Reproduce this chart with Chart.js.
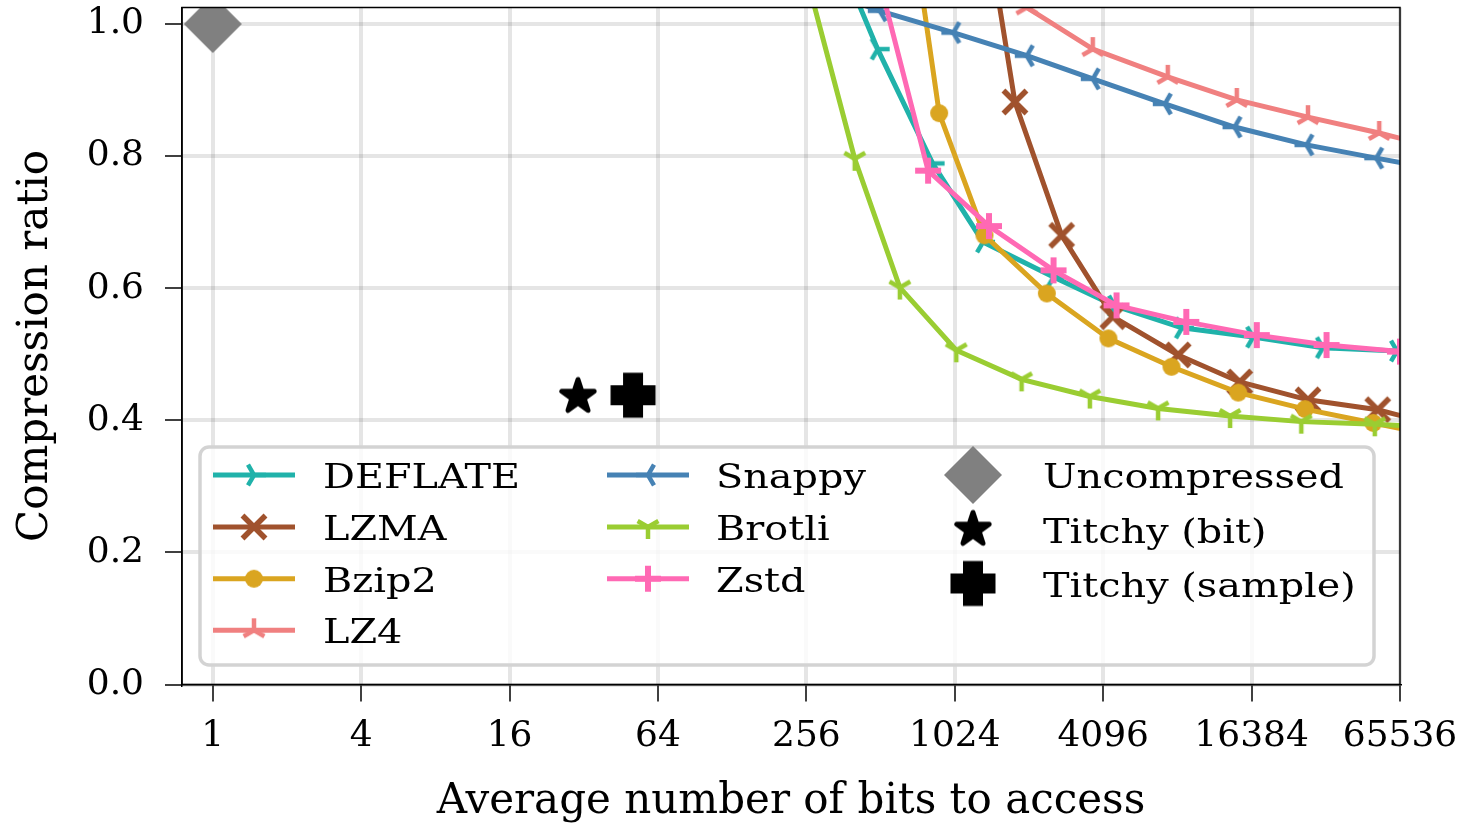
<!DOCTYPE html>
<html>
<head>
<meta charset="utf-8">
<script src="https://cdn.jsdelivr.net/npm/chart.js@4.4.1/dist/chart.umd.min.js"></script>
<style>
  html, body { margin: 0; padding: 0; background: #fff; }
</style>
</head>
<body>
<canvas id="chart" width="1463" height="823"></canvas>
<script>
(function() {
    "use strict";

    // ticks
    var xTicks = [1, 4, 16, 64, 256, 1024, 4096, 16384, 65536];
    var yTicks = [0, 0.2, 0.4, 0.6, 0.8, 1.0];

    // series (average bits to access, compression ratio)
    var deflateX = [256, 498, 832, 1333, 2575, 4570, 8540, 16612, 31870, 63724];
    var deflateY = [1.22, 0.962, 0.789, 0.670, 0.617, 0.573, 0.540, 0.526, 0.510, 0.505];

    var lzmaX = [955, 1795, 2778, 4481, 8249, 14664, 27744, 53232, 99334];
    var lzmaY = [1.52, 0.882, 0.680, 0.557, 0.499, 0.458, 0.431, 0.416, 0.390];

    var bzip2X = [461, 885, 1351, 2419, 4299, 7750, 14462, 26986, 51063, 95880];
    var bzip2Y = [1.60, 0.865, 0.680, 0.592, 0.524, 0.481, 0.442, 0.417, 0.396, 0.375];

    var lz4X = [1024, 2006, 3717, 7486, 14263, 27744, 53974, 99334];
    var lz4Y = [1.10, 1.025, 0.962, 0.920, 0.885, 0.859, 0.835, 0.810];

    var snappyX = [256, 508, 1010, 2006, 3717, 7281, 13969, 27362, 52500, 99334];
    var snappyY = [1.06, 1.02, 0.987, 0.952, 0.917, 0.879, 0.844, 0.817, 0.797, 0.778];

    var brotliX = [208, 402, 613, 1038, 1911, 3615, 6841, 13400, 26067, 51776, 99334];
    var brotliY = [1.20, 0.796, 0.601, 0.506, 0.462, 0.436, 0.418, 0.4065, 0.398, 0.394, 0.389];

    var zstdX = [416, 798, 1409, 2575, 4639, 8902, 17199, 32994, 65536];
    var zstdY = [1.19, 0.778, 0.694, 0.627, 0.574, 0.549, 0.529, 0.514, 0.504];

    var uncompressedX = [1];
    var uncompressedY = [1.0];
    var titchyBitX = [30.3];
    var titchyBitY = [0.436];
    var titchySampleX = [50.7];
    var titchySampleY = [0.438];

    var lineSeries = [
        { label: 'DEFLATE', x: deflateX, y: deflateY, color: '#20b2aa', marker: 'triRight' },
        { label: 'LZMA', x: lzmaX, y: lzmaY, color: '#a0522d', marker: 'x' },
        { label: 'Bzip2', x: bzip2X, y: bzip2Y, color: '#daa520', marker: 'circle' },
        { label: 'LZ4', x: lz4X, y: lz4Y, color: '#f08080', marker: 'triUp' },
        { label: 'Snappy', x: snappyX, y: snappyY, color: '#4682b4', marker: 'triLeft' },
        { label: 'Brotli', x: brotliX, y: brotliY, color: '#9acd32', marker: 'triDown' },
        { label: 'Zstd', x: zstdX, y: zstdY, color: '#ff69b4', marker: 'plus' }
    ];
    var pointSeries = [
        { label: 'Uncompressed', x: uncompressedX, y: uncompressedY, color: '#808080', marker: 'diamond' },
        { label: 'Titchy (bit)', x: titchyBitX, y: titchyBitY, color: '#000000', marker: 'star' },
        { label: 'Titchy (sample)', x: titchySampleX, y: titchySampleY, color: '#000000', marker: 'filledPlus' }
    ];

    var serif = "'DejaVu Serif', 'Liberation Serif', serif";
    var plotTop = 7.5;

    // marker glyphs, drawn once on small canvases
    function makeMarker(kind, color) {
        var c = document.createElement('canvas');
        c.width = 72;
        c.height = 72;
        var g = c.getContext('2d');
        g.translate(36, 36);
        g.fillStyle = color;
        g.strokeStyle = color;
        var rays = {
            triRight: [0, 120, 240],
            triLeft: [180, 300, 60],
            triUp: [270, 30, 150],
            triDown: [90, 210, 330]
        };
        if (rays[kind]) {
            g.lineWidth = 4.5;
            g.beginPath();
            rays[kind].forEach(function(a) {
                var r = a * Math.PI / 180;
                g.moveTo(0, 0);
                g.lineTo(12 * Math.cos(r), 12 * Math.sin(r));
            });
            g.stroke();
        } else if (kind === 'x') {
            g.lineWidth = 5.5;
            g.beginPath();
            g.moveTo(-11.5, -11.5); g.lineTo(11.5, 11.5);
            g.moveTo(-11.5, 11.5); g.lineTo(11.5, -11.5);
            g.stroke();
        } else if (kind === 'plus') {
            g.lineWidth = 6;
            g.beginPath();
            g.moveTo(-13, 0); g.lineTo(13, 0);
            g.moveTo(0, -13); g.lineTo(0, 13);
            g.stroke();
        } else if (kind === 'circle') {
            g.beginPath();
            g.arc(0, 0, 9, 0, Math.PI * 2);
            g.fill();
        } else if (kind === 'diamond') {
            g.beginPath();
            g.moveTo(0, -29); g.lineTo(29, 0); g.lineTo(0, 29); g.lineTo(-29, 0);
            g.closePath();
            g.fill();
        } else if (kind === 'star') {
            g.beginPath();
            for (var i = 0; i < 10; i++) {
                var rr = i % 2 === 0 ? 17 : 17 * 0.382;
                var ang = -Math.PI / 2 + i * Math.PI / 5;
                if (i === 0) g.moveTo(rr * Math.cos(ang), rr * Math.sin(ang));
                else g.lineTo(rr * Math.cos(ang), rr * Math.sin(ang));
            }
            g.closePath();
            g.fill();
            g.lineWidth = 5;
            g.lineJoin = 'round';
            g.stroke();
        } else if (kind === 'filledPlus') {
            var s = 22.5, w = 10;
            g.beginPath();
            g.moveTo(-w, -s); g.lineTo(w, -s); g.lineTo(w, -w); g.lineTo(s, -w);
            g.lineTo(s, w); g.lineTo(w, w); g.lineTo(w, s); g.lineTo(-w, s);
            g.lineTo(-w, w); g.lineTo(-s, w); g.lineTo(-s, -w); g.lineTo(-w, -w);
            g.closePath();
            g.fill();
        }
        return c;
    }

    function toPoints(xs, ys) {
        return xs.map(function(v, i) { return { x: v, y: ys[i] }; });
    }

    var datasets = [];
    lineSeries.forEach(function(s, i) {
        s.glyph = makeMarker(s.marker, s.color);
        datasets.push({
            label: s.label,
            data: toPoints(s.x, s.y),
            borderColor: s.color,
            borderWidth: 5,
            pointStyle: s.glyph,
            pointRadius: 10,
            tension: 0,
            clip: 0,
            order: 20 - i
        });
    });
    pointSeries.forEach(function(s, i) {
        s.glyph = makeMarker(s.marker, s.color);
        datasets.push({
            label: s.label,
            data: toPoints(s.x, s.y),
            showLine: false,
            borderColor: s.color,
            pointStyle: s.glyph,
            pointRadius: 12,
            clip: 0,
            order: 5 - i
        });
    });

    // legend inside the axes, three columns
    var legendBox = { left: 200, top: 447, right: 1374, bottom: 665 };
    var legendCols = [
        { items: [0, 1, 2, 3], handleX: 254, textX: 323, baselines: [488, 540, 591.7, 643.3] },
        { items: [4, 5, 6], handleX: 648, textX: 716, baselines: [488, 540, 591.7] },
        { items: [7, 8, 9], handleX: 973, textX: 1043, baselines: [488, 542.5, 596.5] }
    ];

    var framePlugin = {
        id: 'frame',
        // pin the top of the plot area where the reference has it
        afterLayout: function(chart) {
            var y = chart.scales.y, a = chart.chartArea;
            a.top = plotTop;
            a.height = a.bottom - a.top;
            y.top = plotTop;
            y.height = y.bottom - y.top;
            y.configure();
        },
        afterDatasetsDraw: function(chart) {
            var a = chart.chartArea, g = chart.ctx;
            g.save();
            g.strokeStyle = '#000';
            g.lineWidth = 1.5;
            g.strokeRect(a.left, a.top, a.right - a.left, a.bottom - a.top);
            g.restore();
        },
        afterDraw: function(chart) {
            var g = chart.ctx, b = legendBox;
            var all = lineSeries.concat(pointSeries);
            g.save();
            g.beginPath();
            g.roundRect(b.left, b.top, b.right - b.left, b.bottom - b.top, 9);
            g.fillStyle = 'rgba(255,255,255,0.8)';
            g.fill();
            g.strokeStyle = '#d3d3d3';
            g.lineWidth = 3.5;
            g.stroke();

            legendCols.forEach(function(col) {
                col.items.forEach(function(idx, row) {
                    var s = all[idx];
                    var base = col.baselines[row];
                    var my = base - 13;
                    if (idx < lineSeries.length) {
                        g.strokeStyle = s.color;
                        g.lineWidth = 5;
                        g.beginPath();
                        g.moveTo(col.handleX - 41, my);
                        g.lineTo(col.handleX + 41, my);
                        g.stroke();
                    }
                    g.drawImage(s.glyph, col.handleX - s.glyph.width / 2, my - s.glyph.height / 2);
                    g.save();
                    g.translate(col.textX, base);
                    g.scale(1.17, 1);
                    g.fillStyle = '#000';
                    g.font = '34px ' + serif;
                    g.textBaseline = 'alphabetic';
                    g.fillText(s.label, 0, 0);
                    g.restore();
                });
            });
            g.restore();
        }
    };

    var gridOpts = {
        color: 'rgba(0,0,0,0.1)',
        lineWidth: 4,
        tickColor: '#000',
        tickWidth: 1.5,
        tickLength: 17
    };

    var chart = new Chart(document.getElementById('chart'), {
        type: 'line',
        data: { datasets: datasets },
        options: {
            responsive: false,
            animation: false,
            events: [],
            layout: {
                padding: { left: 0, right: 63, top: 2, bottom: 0 }
            },
            plugins: {
                legend: { display: false },
                tooltip: { enabled: false }
            },
            scales: {
                x: {
                    type: 'logarithmic',
                    min: 0.75,
                    max: 65536,
                    afterBuildTicks: function(scale) {
                        scale.ticks = xTicks.map(function(v) { return { value: v }; });
                    },
                    afterFit: function(scale) {
                        scale.height = 138.5;
                        scale.paddingLeft = 0;
                        scale.paddingRight = 0;
                    },
                    ticks: {
                        autoSkip: false,
                        maxRotation: 0,
                        padding: 14,
                        color: '#000',
                        font: { family: serif, size: 36 },
                        callback: function(v) { return String(v); }
                    },
                    grid: gridOpts,
                    border: { color: '#000', width: 1.5 },
                    title: {
                        display: true,
                        text: 'Average number of bits to access',
                        color: '#000',
                        padding: 0,
                        font: { family: serif, size: 42, lineHeight: 1 }
                    }
                },
                y: {
                    type: 'linear',
                    min: 0,
                    max: 1.025,
                    afterBuildTicks: function(scale) {
                        scale.ticks = yTicks.map(function(v) { return { value: v }; });
                    },
                    afterFit: function(scale) {
                        scale.width = 182;
                        scale.paddingTop = 0;
                        scale.paddingBottom = 0;
                    },
                    ticks: {
                        padding: 21,
                        color: '#000',
                        font: { family: serif, size: 36 },
                        callback: function(v) { return v.toFixed(1); }
                    },
                    grid: gridOpts,
                    border: { color: '#000', width: 1.5 },
                    title: {
                        display: true,
                        text: 'Compression ratio',
                        color: '#000',
                        padding: { top: 15, bottom: 0 },
                        font: { family: serif, size: 42, lineHeight: 1 }
                    }
                }
            }
        },
        plugins: [framePlugin]
    });
})();
</script>
</body>
</html>
